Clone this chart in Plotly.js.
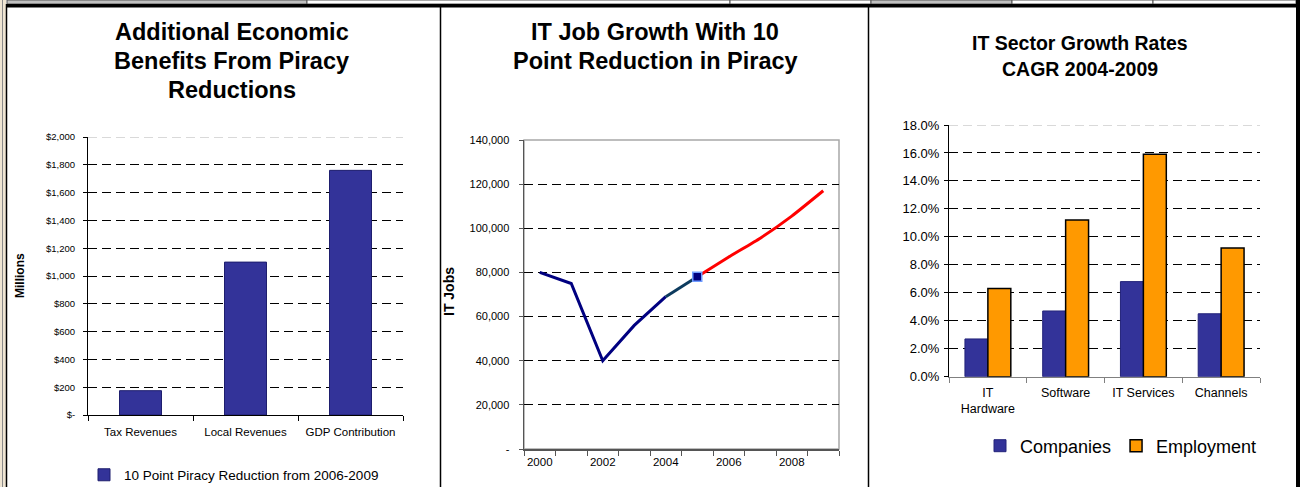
<!DOCTYPE html>
<html>
<head>
<meta charset="utf-8">
<script src="https://cdn.plot.ly/plotly-3.0.1.min.js"></script>
<style>
  html, body { margin: 0; padding: 0; background: #ffffff; }
  #chart { width: 1300px; height: 487px; }
</style>
</head>
<body>
<div id="chart"></div>
<script>
// ---------- DATA ----------
const econCategories = ['Tax Revenues', 'Local Revenues', 'GDP Contribution'];
const econValues = [175, 1100, 1760];
const econSeriesName = '10 Point Piracy Reduction from 2006-2009';
const econTickVals = [0, 200, 400, 600, 800, 1000, 1200, 1400, 1600, 1800, 2000];
const econTickText = ['$-', '$200', '$400', '$600', '$800', '$1,000', '$1,200', '$1,400', '$1,600', '$1,800', '$2,000'];

const actualYears = [2000, 2001, 2002, 2003, 2004, 2005];
const actualJobs = [80000, 75000, 40000, 56000, 69000, 78000];
const projectedYears = [2005, 2006, 2007, 2008, 2009];
const projectedJobs = [78000, 87000, 95500, 105500, 117000];
const jobLabelYears = [2000, 2002, 2004, 2006, 2008];
const jobTickVals = [0, 20000, 40000, 60000, 80000, 100000, 120000, 140000];
const jobTickText = ['-', '20,000', '40,000', '60,000', '80,000', '100,000', '120,000', '140,000'];

const sectorCategories = ['IT<br>Hardware', 'Software', 'IT Services', 'Channels'];
const companiesGrowth = [2.7, 4.7, 6.8, 4.5];
const employmentGrowth = [6.3, 11.2, 15.9, 9.2];
const growthTickVals = [0, 2, 4, 6, 8, 10, 12, 14, 16, 18];
const growthTickText = ['0.0%', '2.0%', '4.0%', '6.0%', '8.0%', '10.0%', '12.0%', '14.0%', '16.0%', '18.0%'];

// ---------- HELPERS (layout positions in pixels -> paper) ----------
const W = 1300, H = 487;
const fx = p => p / W;
const fy = p => 1 - p / H;
const FONT = 'Liberation Sans, Arial, Helvetica, sans-serif';
const DASH = '9px,5px';

const allYears = [];
for (let y = actualYears[0]; y <= projectedYears[projectedYears.length - 1]; y++) allYears.push(y);
const yearBounds = allYears.map(y => y - 0.5).concat([allYears[allYears.length - 1] + 0.5]);

// ---------- TRACES ----------
const traces = [
  {
    type: 'bar', x: econCategories, y: econValues, name: econSeriesName,
    xaxis: 'x', yaxis: 'y', width: 0.4, legend: 'legend',
    marker: { color: '#333399', line: { color: '#1e1e6e', width: 1 } },
    hoverinfo: 'x+y'
  },
  {
    type: 'scatter', mode: 'lines', x: actualYears.slice(0, 5), y: actualJobs.slice(0, 5),
    xaxis: 'x2', yaxis: 'y2', showlegend: false,
    line: { color: '#000080', width: 3 }
  },
  {
    type: 'scatter', mode: 'lines', x: actualYears.slice(4), y: actualJobs.slice(4),
    xaxis: 'x2', yaxis: 'y2', showlegend: false,
    line: { color: '#0d3b5e', width: 3 }
  },
  {
    type: 'scatter', mode: 'lines', x: projectedYears, y: projectedJobs,
    xaxis: 'x2', yaxis: 'y2', showlegend: false,
    line: { color: '#ff0000', width: 3, shape: 'spline', smoothing: 0.4 }
  },
  {
    type: 'scatter', mode: 'markers', x: actualYears.slice(-1), y: actualJobs.slice(-1),
    xaxis: 'x2', yaxis: 'y2', showlegend: false,
    marker: { symbol: 'square', size: 9, color: '#000080', line: { color: '#6f9cff', width: 1.5 } }
  },
  {
    type: 'bar', x: sectorCategories, y: companiesGrowth, name: 'Companies',
    xaxis: 'x3', yaxis: 'y3', width: 0.295, offset: -0.295, legend: 'legend2',
    marker: { color: '#333399', line: { color: '#24247a', width: 1 } }
  },
  {
    type: 'bar', x: sectorCategories, y: employmentGrowth, name: 'Employment',
    xaxis: 'x3', yaxis: 'y3', width: 0.295, offset: 0, legend: 'legend2',
    marker: { color: '#ff9900', line: { color: '#000000', width: 1.5 } }
  }
];

// ---------- FRAME SHAPES ----------
const shapes = [
  { type: 'rect', xref: 'paper', yref: 'paper', x0: 0, x1: fx(6), y0: 0, y1: 1, fillcolor: '#efe5d3', line: { width: 0 } },
  { type: 'line', xref: 'paper', yref: 'paper', x0: fx(2.5), x1: fx(2.5), y0: 0, y1: 1, line: { color: '#8a8a8a', width: 1 } },
  { type: 'rect', xref: 'paper', yref: 'paper', x0: fx(7), x1: fx(307), y0: fy(4), y1: 1, fillcolor: '#c0c0c0', line: { color: '#555', width: 1 } },
  { type: 'rect', xref: 'paper', yref: 'paper', x0: fx(307), x1: fx(730), y0: fy(4), y1: 1, fillcolor: '#ffffff', line: { color: '#555', width: 1 } },
  { type: 'rect', xref: 'paper', yref: 'paper', x0: fx(730), x1: fx(871), y0: fy(4), y1: 1, fillcolor: '#ffffff', line: { color: '#555', width: 1 } },
  { type: 'rect', xref: 'paper', yref: 'paper', x0: fx(871), x1: fx(1012), y0: fy(4), y1: 1, fillcolor: '#c0c0c0', line: { color: '#555', width: 1 } },
  { type: 'rect', xref: 'paper', yref: 'paper', x0: fx(1012), x1: fx(1153), y0: fy(4), y1: 1, fillcolor: '#ffffff', line: { color: '#555', width: 1 } },
  { type: 'rect', xref: 'paper', yref: 'paper', x0: fx(1153), x1: fx(1296), y0: fy(4), y1: 1, fillcolor: '#ffffff', line: { color: '#555', width: 1 } },
  { type: 'rect', xref: 'paper', yref: 'paper', x0: fx(6), x1: 1, y0: fy(7.5), y1: fy(4), fillcolor: '#000', line: { width: 0 } },
  { type: 'line', xref: 'paper', yref: 'paper', x0: fx(6.5), x1: fx(6.5), y0: 0, y1: fy(4), line: { color: '#000', width: 1.5 } },
  { type: 'line', xref: 'paper', yref: 'paper', x0: fx(440.5), x1: fx(440.5), y0: 0, y1: fy(6), line: { color: '#000', width: 1.5 } },
  { type: 'line', xref: 'paper', yref: 'paper', x0: fx(868.5), x1: fx(868.5), y0: 0, y1: fy(6), line: { color: '#000', width: 1.5 } },
  { type: 'rect', xref: 'paper', yref: 'paper', x0: fx(1296), x1: 1, y0: 0, y1: 1, fillcolor: '#000', line: { width: 0 } },
  { type: 'line', xref: 'x domain', yref: 'y', x0: 0, x1: 1, y0: econTickVals[econTickVals.length - 1], y1: econTickVals[econTickVals.length - 1], line: { color: '#b3b3b3', width: 1, dash: DASH } },
  { type: 'line', xref: 'x3 domain', yref: 'y3', x0: 0, x1: 1, y0: growthTickVals[growthTickVals.length - 1], y1: growthTickVals[growthTickVals.length - 1], line: { color: '#b3b3b3', width: 1, dash: DASH } },
  { type: 'rect', xref: 'x2 domain', yref: 'y2 domain', x0: 0, x1: 1, y0: 0, y1: 1, line: { color: '#a8a8a8', width: 1.5 }, layer: 'below' }
];

// ---------- TEXT ----------
function title(text, x, y, size) {
  return { text: text, xref: 'paper', yref: 'paper', x: fx(x), y: fy(y), xanchor: 'center', yanchor: 'middle',
           showarrow: false, font: { family: FONT, size: size, color: '#000', weight: 700 } };
}
const annotations = [
  title('Additional Economic', 232, 32, 23.5),
  title('Benefits From Piracy', 232, 61, 23.5),
  title('Reductions', 232, 90, 23.5),
  title('IT Job Growth With 10', 655, 32, 23.5),
  title('Point Reduction in Piracy', 655, 61, 23.5),
  title('IT Sector Growth Rates', 1080, 43, 19.5),
  title('CAGR 2004-2009', 1080, 69, 19.5),
  { text: 'Millions', xref: 'paper', yref: 'paper', x: fx(20), y: fy(276), textangle: -90, showarrow: false,
    xanchor: 'center', yanchor: 'middle', font: { family: FONT, size: 12, color: '#000', weight: 700 } },
  { text: 'IT Jobs', xref: 'paper', yref: 'paper', x: fx(449), y: fy(292), textangle: -90, showarrow: false,
    xanchor: 'center', yanchor: 'middle', font: { family: FONT, size: 14, color: '#000', weight: 700 } }
];

// ---------- LAYOUT ----------
const layout = {
  width: W, height: H,
  margin: { l: 0, r: 0, t: 0, b: 0, pad: 0, autoexpand: false },
  paper_bgcolor: '#ffffff', plot_bgcolor: 'rgba(0,0,0,0)',
  font: { family: FONT, color: '#000' },
  barmode: 'overlay',
  showlegend: true,
  xaxis: {
    domain: [fx(88), fx(403)], anchor: 'y', type: 'category', tickson: 'boundaries',
    ticks: 'outside', ticklen: 5, tickcolor: '#000', showline: true, linecolor: '#000', linewidth: 1,
    showgrid: false, ticklabelstandoff: 6, tickfont: { size: 11.5, family: FONT, color: '#000' }, fixedrange: true
  },
  yaxis: {
    domain: [fy(415), fy(137)], anchor: 'x', range: [0, econTickVals[econTickVals.length - 1]],
    tickmode: 'array', tickvals: econTickVals, ticktext: econTickText,
    ticks: 'outside', ticklen: 4, tickcolor: '#000', showline: true, linecolor: '#000', linewidth: 1,
    showgrid: false, zeroline: false, ticklabelstandoff: 6,
    tickfont: { size: 9.5, family: FONT, color: '#000' },
    minor: { tickmode: 'array', tickvals: econTickVals.slice(1, -1), showgrid: true, gridcolor: '#000', gridwidth: 1, griddash: DASH, ticks: '' },
    fixedrange: true
  },
  xaxis2: {
    domain: [fx(524), fx(839)], anchor: 'y2', range: [yearBounds[0], yearBounds[yearBounds.length - 1]],
    tickmode: 'array', tickvals: jobLabelYears, ticks: '', showline: true, linecolor: '#555', linewidth: 1.5,
    showgrid: false, zeroline: false, ticklabelstandoff: 2, tickfont: { size: 11.5, family: FONT, color: '#000' },
    minor: { tickmode: 'array', tickvals: yearBounds, ticks: 'outside', ticklen: 5, tickcolor: '#555', showgrid: false },
    fixedrange: true
  },
  yaxis2: {
    domain: [fy(449), fy(140)], anchor: 'x2', range: [0, jobTickVals[jobTickVals.length - 1]],
    tickmode: 'array', tickvals: jobTickVals, ticktext: jobTickText,
    ticks: 'outside', ticklen: 4, tickcolor: '#555', showline: true, linecolor: '#555', linewidth: 1.5,
    showgrid: false, zeroline: false, ticklabelstandoff: 7,
    tickfont: { size: 11, family: FONT, color: '#000' },
    minor: { tickmode: 'array', tickvals: jobTickVals.slice(1, -1), showgrid: true, gridcolor: '#000', gridwidth: 1, griddash: DASH, ticks: '' },
    fixedrange: true
  },
  xaxis3: {
    domain: [fx(949), fx(1260)], anchor: 'y3', type: 'category', tickson: 'boundaries',
    ticks: 'outside', ticklen: 5, tickcolor: '#808080', showline: true, linecolor: '#808080', linewidth: 1.5,
    showgrid: false, ticklabelstandoff: 4, tickfont: { size: 12.5, family: FONT, color: '#000' }, fixedrange: true
  },
  yaxis3: {
    domain: [fy(376.7), fy(125)], anchor: 'x3', range: [0, growthTickVals[growthTickVals.length - 1]],
    tickmode: 'array', tickvals: growthTickVals, ticktext: growthTickText,
    ticks: 'outside', ticklen: 4, tickcolor: '#000', showline: true, linecolor: '#000', linewidth: 1,
    showgrid: false, zeroline: false, ticklabelstandoff: 2,
    tickfont: { size: 13, family: FONT, color: '#000' },
    minor: { tickmode: 'array', tickvals: growthTickVals.slice(1, -1), showgrid: true, gridcolor: '#000', gridwidth: 1, griddash: DASH, ticks: '' },
    fixedrange: true
  },
  legend: {
    x: fx(84), y: fy(475), xanchor: 'left', yanchor: 'middle', bgcolor: 'rgba(0,0,0,0)',
    font: { size: 13.5, family: FONT, color: '#000' }, borderwidth: 0
  },
  legend2: {
    orientation: 'h', x: fx(980), y: fy(446), xanchor: 'left', yanchor: 'middle', bgcolor: 'rgba(0,0,0,0)',
    font: { size: 18, family: FONT, color: '#000' }, borderwidth: 0
  },
  shapes: shapes,
  annotations: annotations
};

Plotly.newPlot('chart', traces, layout, { displayModeBar: false, staticPlot: true });
</script>
</body>
</html>
